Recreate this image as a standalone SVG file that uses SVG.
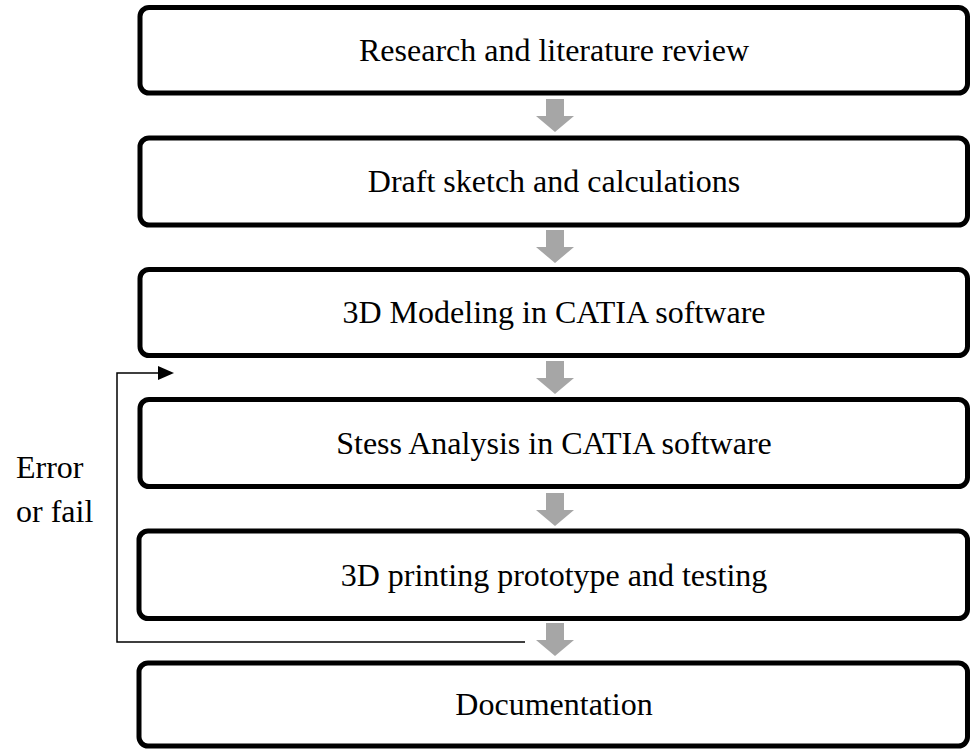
<svg xmlns="http://www.w3.org/2000/svg" width="971" height="749" viewBox="0 0 971 749">
<style>
.box{fill:#fff;stroke:#000;stroke-width:5}
.lbl{font-family:"Liberation Serif","Times New Roman",serif;font-size:32px;fill:#000}
.c{text-anchor:middle}
.flow{fill:#a6a6a6}
.fb{fill:none;stroke:#000;stroke-width:1.5}
</style>
<defs>
<polygon id="darr" points="-9,0 9,0 9,17 19,17 0,33 -19,17 -9,17"/>
</defs>
<rect width="971" height="749" fill="#fff"/>
<g id="n1"><rect class="box" x="140" y="7.5" width="827.5" height="85.5" rx="9"/><text class="lbl c" x="554" y="60.5">Research and literature review</text></g>
<g id="n2"><rect class="box" x="140" y="138" width="827.5" height="87" rx="9"/><text class="lbl c" x="554" y="192">Draft sketch and calculations</text></g>
<g id="n3"><rect class="box" x="140" y="269.5" width="827.5" height="86" rx="9"/><text class="lbl c" x="554" y="323">3D Modeling in CATIA software</text></g>
<g id="n4"><rect class="box" x="140" y="399.5" width="827.5" height="87" rx="9"/><text class="lbl c" x="554" y="454">Stess Analysis in CATIA software</text></g>
<g id="n5"><rect class="box" x="139" y="531" width="828.5" height="87.5" rx="9"/><text class="lbl c" x="554" y="586">3D printing prototype and testing</text></g>
<g id="n6"><rect class="box" x="139" y="663" width="828.5" height="83" rx="9"/><text class="lbl c" x="554" y="715">Documentation</text></g>
<g id="connectors">
<use href="#darr" class="flow" x="555" y="99"/>
<use href="#darr" class="flow" x="555" y="230"/>
<use href="#darr" class="flow" x="555" y="361"/>
<use href="#darr" class="flow" x="555" y="493"/>
<use href="#darr" class="flow" x="555" y="623"/>
<polyline class="fb" points="525,642 117,642 117,373 160,373"/>
<polygon points="158,366 174,373 158,380" fill="#000"/>
</g>
<g id="label-error"><text class="lbl" x="16" y="478">Error</text><text class="lbl" x="16" y="522">or fail</text></g>
</svg>
